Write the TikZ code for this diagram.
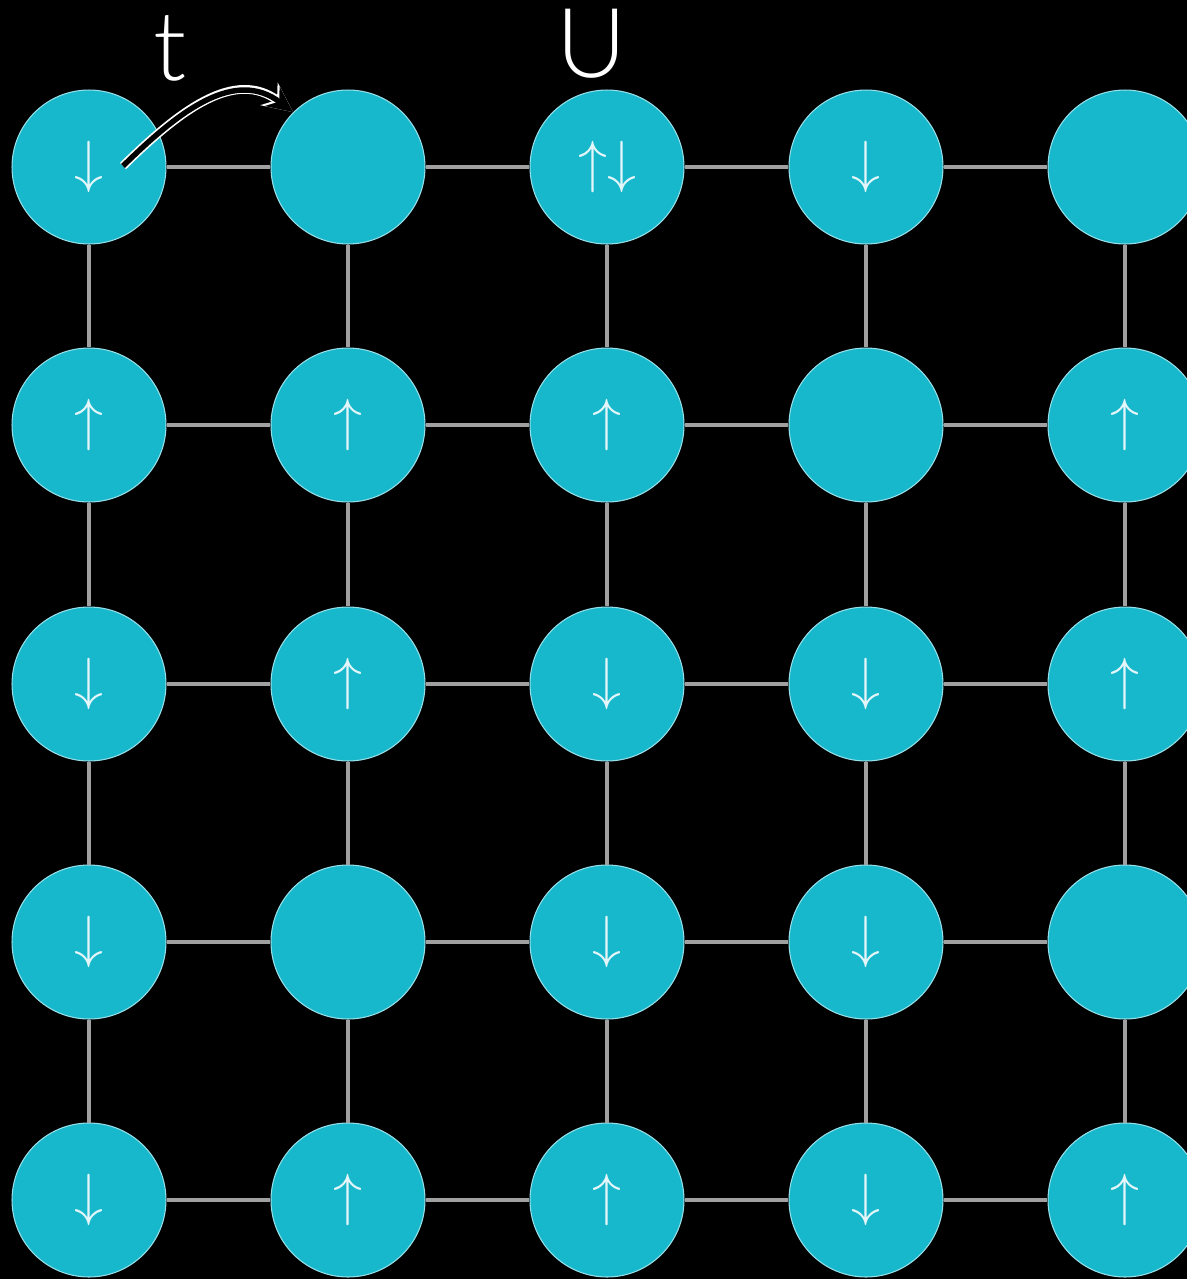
\documentclass[tikz,border=0pt]{standalone}
\usepackage{fontspec}
\usepackage{graphicx}
\usetikzlibrary{arrows.meta, positioning}
\newfontfamily\labelfont{Lato Light}
\definecolor{sitecyan}{RGB}{23,184,204}
\definecolor{bondgray}{RGB}{160,160,160}
\definecolor{spinwhite}{RGB}{228,246,249}
\newcommand{\spin}[1]{\scalebox{3.3}{$#1$}}
\newcommand{\spindown}{\spin{\downarrow}}
\newcommand{\spinup}{\spin{\uparrow}}
\newcommand{\spinpair}{\spin{\uparrow\downarrow}}

\begin{document}
\begin{tikzpicture}[x=0.02cm, y=-0.02cm,
    site/.style={circle, fill=sitecyan, draw=white!55!sitecyan, line width=0.6pt,
        minimum size=3.08cm, inner sep=0pt, text=spinwhite},
    bond/.style={draw=bondgray, line width=2pt},
    hop/.style={draw=black, line width=3.1pt, -{Stealth[length=0.52cm, width=0.48cm]},
        preaction={draw=white, line width=5pt, -{Stealth[length=0.6cm, width=0.56cm]}}},
    coupling/.style={text=white, font=\labelfont\fontsize{55}{55}\selectfont, anchor=base, inner sep=0pt}
]
    \fill[black] (0,0) rectangle (1187,1279);
    \clip (0,0) rectangle (1187,1279);

    % lattice sites, one row at a time
    \foreach \s [count=\c] in {\spindown, {}, \spinpair, \spindown, {}}
        \node[site] (s-1-\c) at ({89+259*(\c-1)}, 167) {\s};
    \foreach \s [count=\c] in {\spinup, \spinup, \spinup, {}, \spinup}
        \node[site] (s-2-\c) at ({89+259*(\c-1)}, 425) {\s};
    \foreach \s [count=\c] in {\spindown, \spinup, \spindown, \spindown, \spinup}
        \node[site] (s-3-\c) at ({89+259*(\c-1)}, 684) {\s};
    \foreach \s [count=\c] in {\spindown, {}, \spindown, \spindown, {}}
        \node[site] (s-4-\c) at ({89+259*(\c-1)}, 942) {\s};
    \foreach \s [count=\c] in {\spindown, \spinup, \spinup, \spindown, \spinup}
        \node[site] (s-5-\c) at ({89+259*(\c-1)}, 1200) {\s};

    % bonds
    \foreach \i in {1,...,5}
        \foreach \a/\b in {1/2, 2/3, 3/4, 4/5} {
            \draw[bond] (s-\i-\a) -- (s-\i-\b);
            \draw[bond] (s-\a-\i) -- (s-\b-\i);
        }

    % hopping and on-site labels
    \coordinate (hopstart) at (123,166);
    \draw[hop] (hopstart) .. controls (180,110) and (235,68) .. (s-1-2.north west);
    \node[coupling] (tlabel) at (170,80) {t};
    \node[coupling] (ulabel) at (592,77) {U};
\end{tikzpicture}
\end{document}
